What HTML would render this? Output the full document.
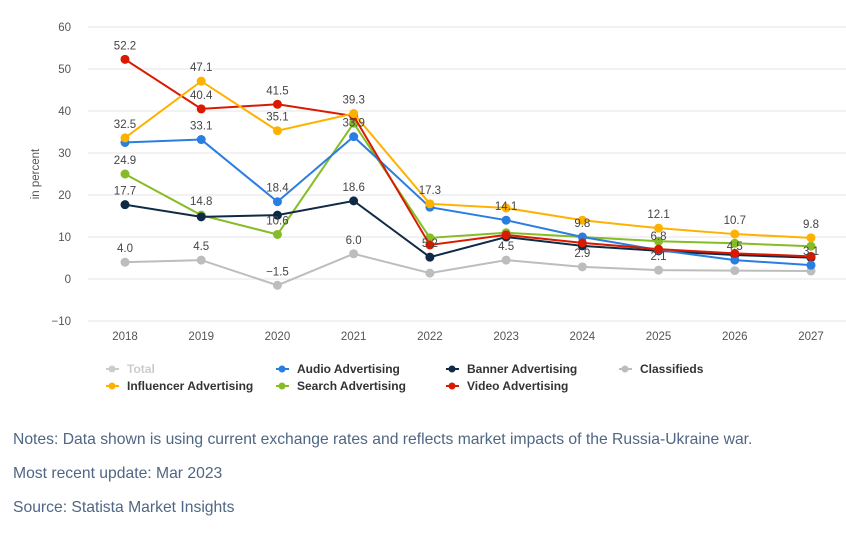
<!DOCTYPE html>
<html><head><meta charset="utf-8"><style>
body{margin:0;background:#fff;width:846px;height:533px;overflow:hidden;font-family:"Liberation Sans",sans-serif}
.note{position:absolute;left:13px;font-size:15.7px;color:#4f6684}
</style></head><body>
<svg id="chart" width="846" height="420" style="position:absolute;left:0;top:0" font-family="Liberation Sans, sans-serif"></svg>
<div class="note" style="top:431px">Notes: Data shown is using current exchange rates and reflects market impacts of the Russia-Ukraine war.</div>
<div class="note" style="top:465px">Most recent update: Mar 2023</div>
<div class="note" style="top:499px">Source: Statista Market Insights</div>
<script>
const years=["2018","2019","2020","2021","2022","2023","2024","2025","2026","2027"];
const yTicks=[-10,0,10,20,30,40,50,60];
const seriesNames=["Classifieds","Search Advertising","Banner Advertising","Audio Advertising","Video Advertising","Influencer Advertising"];
const seriesColors=["#bdbdbd","#86bc25","#0f2a44","#2a7de1","#d91a00","#ffb100"];
const classifieds=[4.0,4.5,-1.5,6.0,1.4,4.5,2.9,2.1,2.0,1.9];
const search=[25.0,15.2,10.6,37.1,9.8,11.0,10.0,9.0,8.5,7.8];
const banner=[17.7,14.8,15.2,18.6,5.2,10.0,7.9,6.7,5.7,5.1];
const audio=[32.5,33.2,18.4,33.9,17.1,14.0,10.0,6.9,4.5,3.3];
const video=[52.3,40.5,41.6,38.8,8.1,10.5,8.6,7.1,6.1,5.4];
const influencer=[33.6,47.1,35.3,39.4,17.9,16.9,14.0,12.1,10.7,9.8];
const allSeries=[classifieds,search,banner,audio,video,influencer];
// labels: [year index, series index, text]
const labels=[[0,4,"52.2"],[0,5,"32.5"],[0,1,"24.9"],[0,2,"17.7"],[0,0,"4.0"],
[1,5,"47.1"],[1,4,"40.4"],[1,3,"33.1"],[1,1,"14.8"],[1,0,"4.5"],
[2,4,"41.5"],[2,5,"35.1"],[2,3,"18.4"],[2,1,"10.6"],[2,0,"\u22121.5"],
[3,5,"39.3"],[3,3,"33.9"],[3,2,"18.6"],[3,0,"6.0"],
[4,5,"17.3"],[4,2,"5.2"],[5,3,"14.1"],[5,0,"4.5"],[6,3,"9.8"],[6,0,"2.9"],
[7,5,"12.1"],[7,3,"6.8"],[7,0,"2.1"],[8,5,"10.7"],[8,3,"4.5"],[9,5,"9.8"],[9,3,"3.1"]];
const svg=document.getElementById('chart');const NS="http://www.w3.org/2000/svg";
function mk(t,a,p){const e=document.createElementNS(NS,t);for(const k in a)e.setAttribute(k,a[k]);(p||svg).appendChild(e);return e;}
const xS=i=>125+i*(811-125)/(years.length-1);
const yS=v=>279-v*4.2;
yTicks.forEach(t=>{const g=mk('line',{x1:88,x2:846,y1:yS(t),y2:yS(t),stroke:'#e6e6e6'});


const tx=mk('text',{x:71,y:yS(t)+4,'text-anchor':'end','font-size':11.5,fill:'#555'});tx.textContent=t<0?'\u2212'+(-t):t;

});
years.forEach((y,i)=>{const tx=mk('text',{x:xS(i),y:340,'text-anchor':'middle','font-size':11.5,fill:'#555'});tx.textContent=y;

});
const yt=mk('text',{x:0,y:0,transform:'translate(39,174) rotate(-90)','text-anchor':'middle','font-size':11.5,fill:'#555'});yt.textContent='in percent';


allSeries.forEach((s,k)=>{const g=mk('g',{});


mk('polyline',{points:s.map((v,i)=>xS(i)+','+yS(v)).join(' '),fill:'none',stroke:seriesColors[k],'stroke-width':2},g);
s.forEach((v,i)=>{const c=mk('circle',{cx:xS(i),cy:yS(v),r:4.5,fill:seriesColors[k]},g);

});});
labels.forEach(l=>{const tx=mk('text',{x:xS(l[0]),y:yS(allSeries[l[1]][l[0]])-10,'text-anchor':'middle','font-size':11.5,fill:'#444'});tx.textContent=l[2];

});
const leg=[["Total","#cccccc",112,369,true],["Audio Advertising","#2a7de1",282,369],["Banner Advertising","#0f2a44",452,369],["Classifieds","#bdbdbd",625,369],["Influencer Advertising","#ffb100",112,386],["Search Advertising","#86bc25",282,386],["Video Advertising","#d91a00",452,386]];
leg.forEach(l=>{const g=mk('g',{});


mk('line',{x1:l[2]-6,x2:l[2]+7,y1:l[3],y2:l[3],stroke:l[1],'stroke-width':2},g);
mk('circle',{cx:l[2],cy:l[3],r:3.5,fill:l[1]},g);
const t=mk('text',{x:l[2]+15,y:l[3]+4,'font-size':12,'font-weight':'bold',fill:l[4]?'#cccccc':'#333'},g);t.textContent=l[0];});
</script>
</body></html>
